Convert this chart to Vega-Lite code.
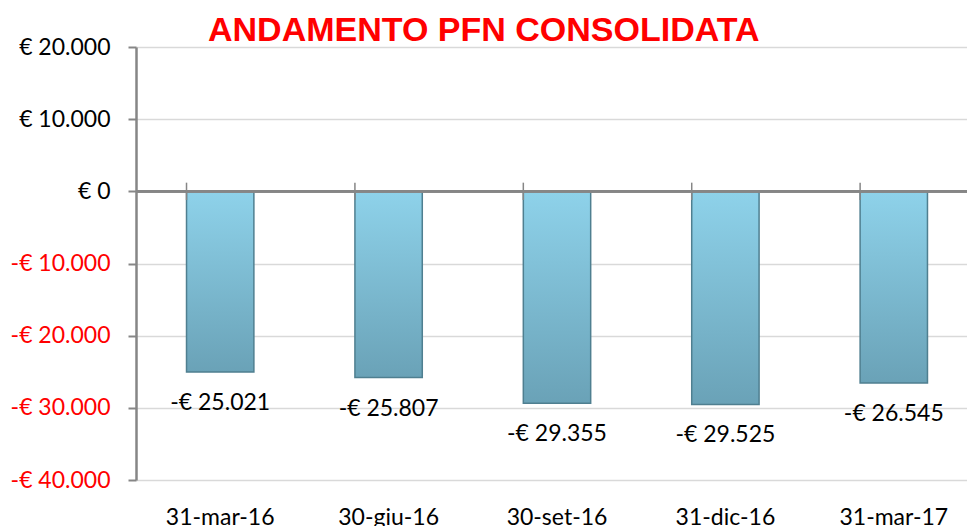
{
  "$schema": "https://vega.github.io/schema/vega-lite/v6.json",
  "width": 842,
  "height": 433,
  "autosize": "none",
  "padding": {"left": 136, "top": 47, "right": 0, "bottom": 46},
  "background": "white",
  "config": {
    "view": {"stroke": null},
    "locale": {"number": {"decimal": ",", "thousands": ".", "grouping": [3], "currency": ["€ ", ""], "minus": "-"}},
    "font": "Lato"
  },
  "title": {
    "text": "ANDAMENTO PFN CONSOLIDATA",
    "anchor": "start",
    "frame": "group",
    "dx": 72,
    "dy": 18,
    "offset": 6,
    "color": "#ff0000",
    "font": "Liberation Sans",
    "fontSize": 34,
    "fontWeight": "bold"
  },
  "data": {
    "values": [
      {"data": "31-mar-16", "pfn": -25021},
      {"data": "30-giu-16", "pfn": -25807},
      {"data": "30-set-16", "pfn": -29355},
      {"data": "31-dic-16", "pfn": -29525},
      {"data": "31-mar-17", "pfn": -26545}
    ]
  },
  "layer": [
    {
      "mark": {
        "type": "bar",
        "fill": {
          "gradient": "linear", "x1": 0, "y1": 0, "x2": 0, "y2": 1,
          "stops": [
            {"offset": 0, "color": "#8ed2ea"},
            {"offset": 1, "color": "#6aa2b7"}
          ]
        },
        "stroke": "#4f7f90",
        "strokeWidth": 1.5
      },
      "encoding": {
        "x": {
          "field": "data", "type": "nominal", "sort": null,
          "scale": {"paddingInner": 0.6, "paddingOuter": 0.3},
          "axis": {
            "title": null, "labelAngle": 0, "domain": false, "ticks": false, "grid": false,
            "labelFontSize": 23, "labelColor": "black", "labelPadding": 26, "labelFont": "Lato"
          }
        },
        "y": {
          "field": "pfn", "type": "quantitative",
          "scale": {"domain": [-40000, 20000], "nice": false},
          "axis": {
            "title": null,
            "values": [-40000, -30000, -20000, -10000, 0, 10000, 20000],
            "format": "$,d",
            "grid": true, "gridColor": "#d9d9d9", "gridWidth": 1.5,
            "domainColor": "#868686", "domainWidth": 2.5,
            "tickColor": "#868686", "tickWidth": 2, "tickSize": 8,
            "labelPadding": 18, "labelFontSize": 23, "labelFont": "Lato",
            "labelColor": {"condition": {"test": "datum.value < 0", "value": "#ff0000"}, "value": "black"}
          }
        }
      }
    },
    {
      "mark": {"type": "rule", "color": "#868686", "strokeWidth": 2.5},
      "encoding": {"y": {"datum": 0}}
    },
    {
      "mark": {"type": "rule", "color": "#868686", "strokeWidth": 1.5},
      "encoding": {
        "x": {"field": "data", "type": "nominal", "sort": null, "bandPosition": 0},
        "y": {"datum": 1200},
        "y2": {"datum": -1200}
      }
    },
    {
      "mark": {"type": "text", "dy": 31, "fontSize": 23, "font": "Lato", "color": "black", "baseline": "middle"},
      "encoding": {
        "x": {"field": "data", "type": "nominal", "sort": null},
        "y": {"field": "pfn", "type": "quantitative"},
        "text": {"field": "pfn", "type": "quantitative", "format": "$,d"}
      }
    }
  ]
}
